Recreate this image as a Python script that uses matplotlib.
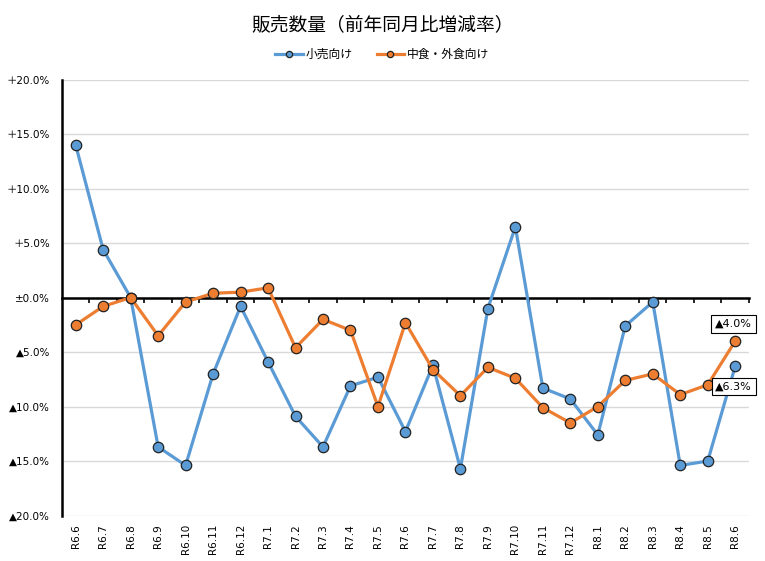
import matplotlib
matplotlib.use("Agg")
import matplotlib.pyplot as plt
from matplotlib.ticker import FixedLocator, FuncFormatter

plt.rcParams['font.family'] = ['Noto Sans CJK JP', 'DejaVu Sans']
label_family = ['DejaVu Sans', 'Noto Sans CJK JP']

months = ["R6.6", "R6.7", "R6.8", "R6.9", "R6.10", "R6.11", "R6.12",
          "R7.1", "R7.2", "R7.3", "R7.4", "R7.5", "R7.6", "R7.7", "R7.8",
          "R7.9", "R7.10", "R7.11", "R7.12", "R8.1", "R8.2", "R8.3",
          "R8.4", "R8.5", "R8.6"]
retail = [14.0, 4.4, 0.0, -13.7, -15.4, -7.0, -0.8, -5.9, -10.9, -13.7,
          -8.1, -7.3, -12.3, -6.2, -15.7, -1.0, 6.5, -8.3, -9.3, -12.6,
          -2.6, -0.4, -15.4, -15.0, -6.3]
food_service = [-2.5, -0.8, 0.0, -3.5, -0.4, 0.4, 0.5, 0.9, -4.6, -2.0,
                -3.0, -10.0, -2.3, -6.6, -9.0, -6.4, -7.4, -10.1, -11.5,
                -10.0, -7.6, -7.0, -8.9, -8.0, -4.0]
series_names = ["小売向け", "中食・外食向け"]
title = "販売数量（前年同月比増減率）"

blue = "#5B9BD5"
orange = "#ED7D31"

fig = plt.figure(figsize=(7.65, 5.61), dpi=100)
ax = fig.add_axes([0.081, 0.081, 0.898, 0.777])

x = list(range(len(months)))
ax.plot(x, retail, color=blue, lw=2.3, marker='o', ms=7.5,
        mfc=blue, mec='#222222', mew=0.9, label=series_names[0], zorder=3)
ax.plot(x, food_service, color=orange, lw=2.3, marker='o', ms=7.5,
        mfc=orange, mec='#222222', mew=0.9, label=series_names[1], zorder=4)

ax.set_xlim(-0.5, len(months) - 0.5)
ax.set_ylim(-20, 20)

def yfmt(v, pos):
    if abs(v) < 1e-9:
        return "±0.0%"
    if v > 0:
        return "＋%.1f%%" % v
    return "▲%.1f%%" % abs(v)

ax.yaxis.set_major_locator(FixedLocator([-20, -15, -10, -5, 0, 5, 10, 15, 20]))
ax.yaxis.set_major_formatter(FuncFormatter(yfmt))
ax.tick_params(axis='y', length=0, pad=8.5, labelsize=7.5)
for t in ax.get_yticklabels():
    t.set_family(label_family)
ax.grid(axis='y', color='#d9d9d9', lw=1.0, zorder=0)
ax.set_axisbelow(True)

for s in ['top', 'right']:
    ax.spines[s].set_visible(False)
ax.spines['left'].set_linewidth(1.8)
ax.spines['left'].set_color('black')
ax.spines['bottom'].set_position(('data', 0))
ax.spines['bottom'].set_linewidth(1.8)
ax.spines['bottom'].set_color('black')
ax.spines['bottom'].set_zorder(2)

ax.set_xticks(x)
ax.set_xticklabels([])
ax.tick_params(axis='x', which='major', length=0)
ax.set_xticks([i + 0.5 for i in x], minor=True)
ax.tick_params(axis='x', which='minor', length=3.5, width=1.2, direction='out', color='black')

sec = ax.secondary_xaxis(0.0)
sec.set_xticks(x)
sec.set_xticklabels(months, rotation=90, fontsize=7.5, family=label_family)
sec.tick_params(length=0, pad=6)
sec.spines['bottom'].set_visible(False)

# end-point labels
offsets = {0: -14.5, 1: 12.6}
for k, vals in enumerate((retail, food_service)):
    v = vals[-1]
    ax.annotate("▲%.1f%%" % abs(v), xy=(x[-1], v), xytext=(-1, offsets[k]),
                textcoords='offset points', ha='center', va='center', fontsize=8,
                family=label_family,
                bbox=dict(boxstyle='square,pad=0.35', fc='white', ec='black', lw=0.8), zorder=6)

fig.suptitle(title, y=0.975, fontsize=13.5)
fig.legend(loc='center', bbox_to_anchor=(0.5, 0.903), ncol=2, frameon=False,
           fontsize=8.5, handlelength=2.3, markerscale=0.6, columnspacing=2.0,
           handletextpad=0.3)

fig.savefig("out.png", dpi=100)
